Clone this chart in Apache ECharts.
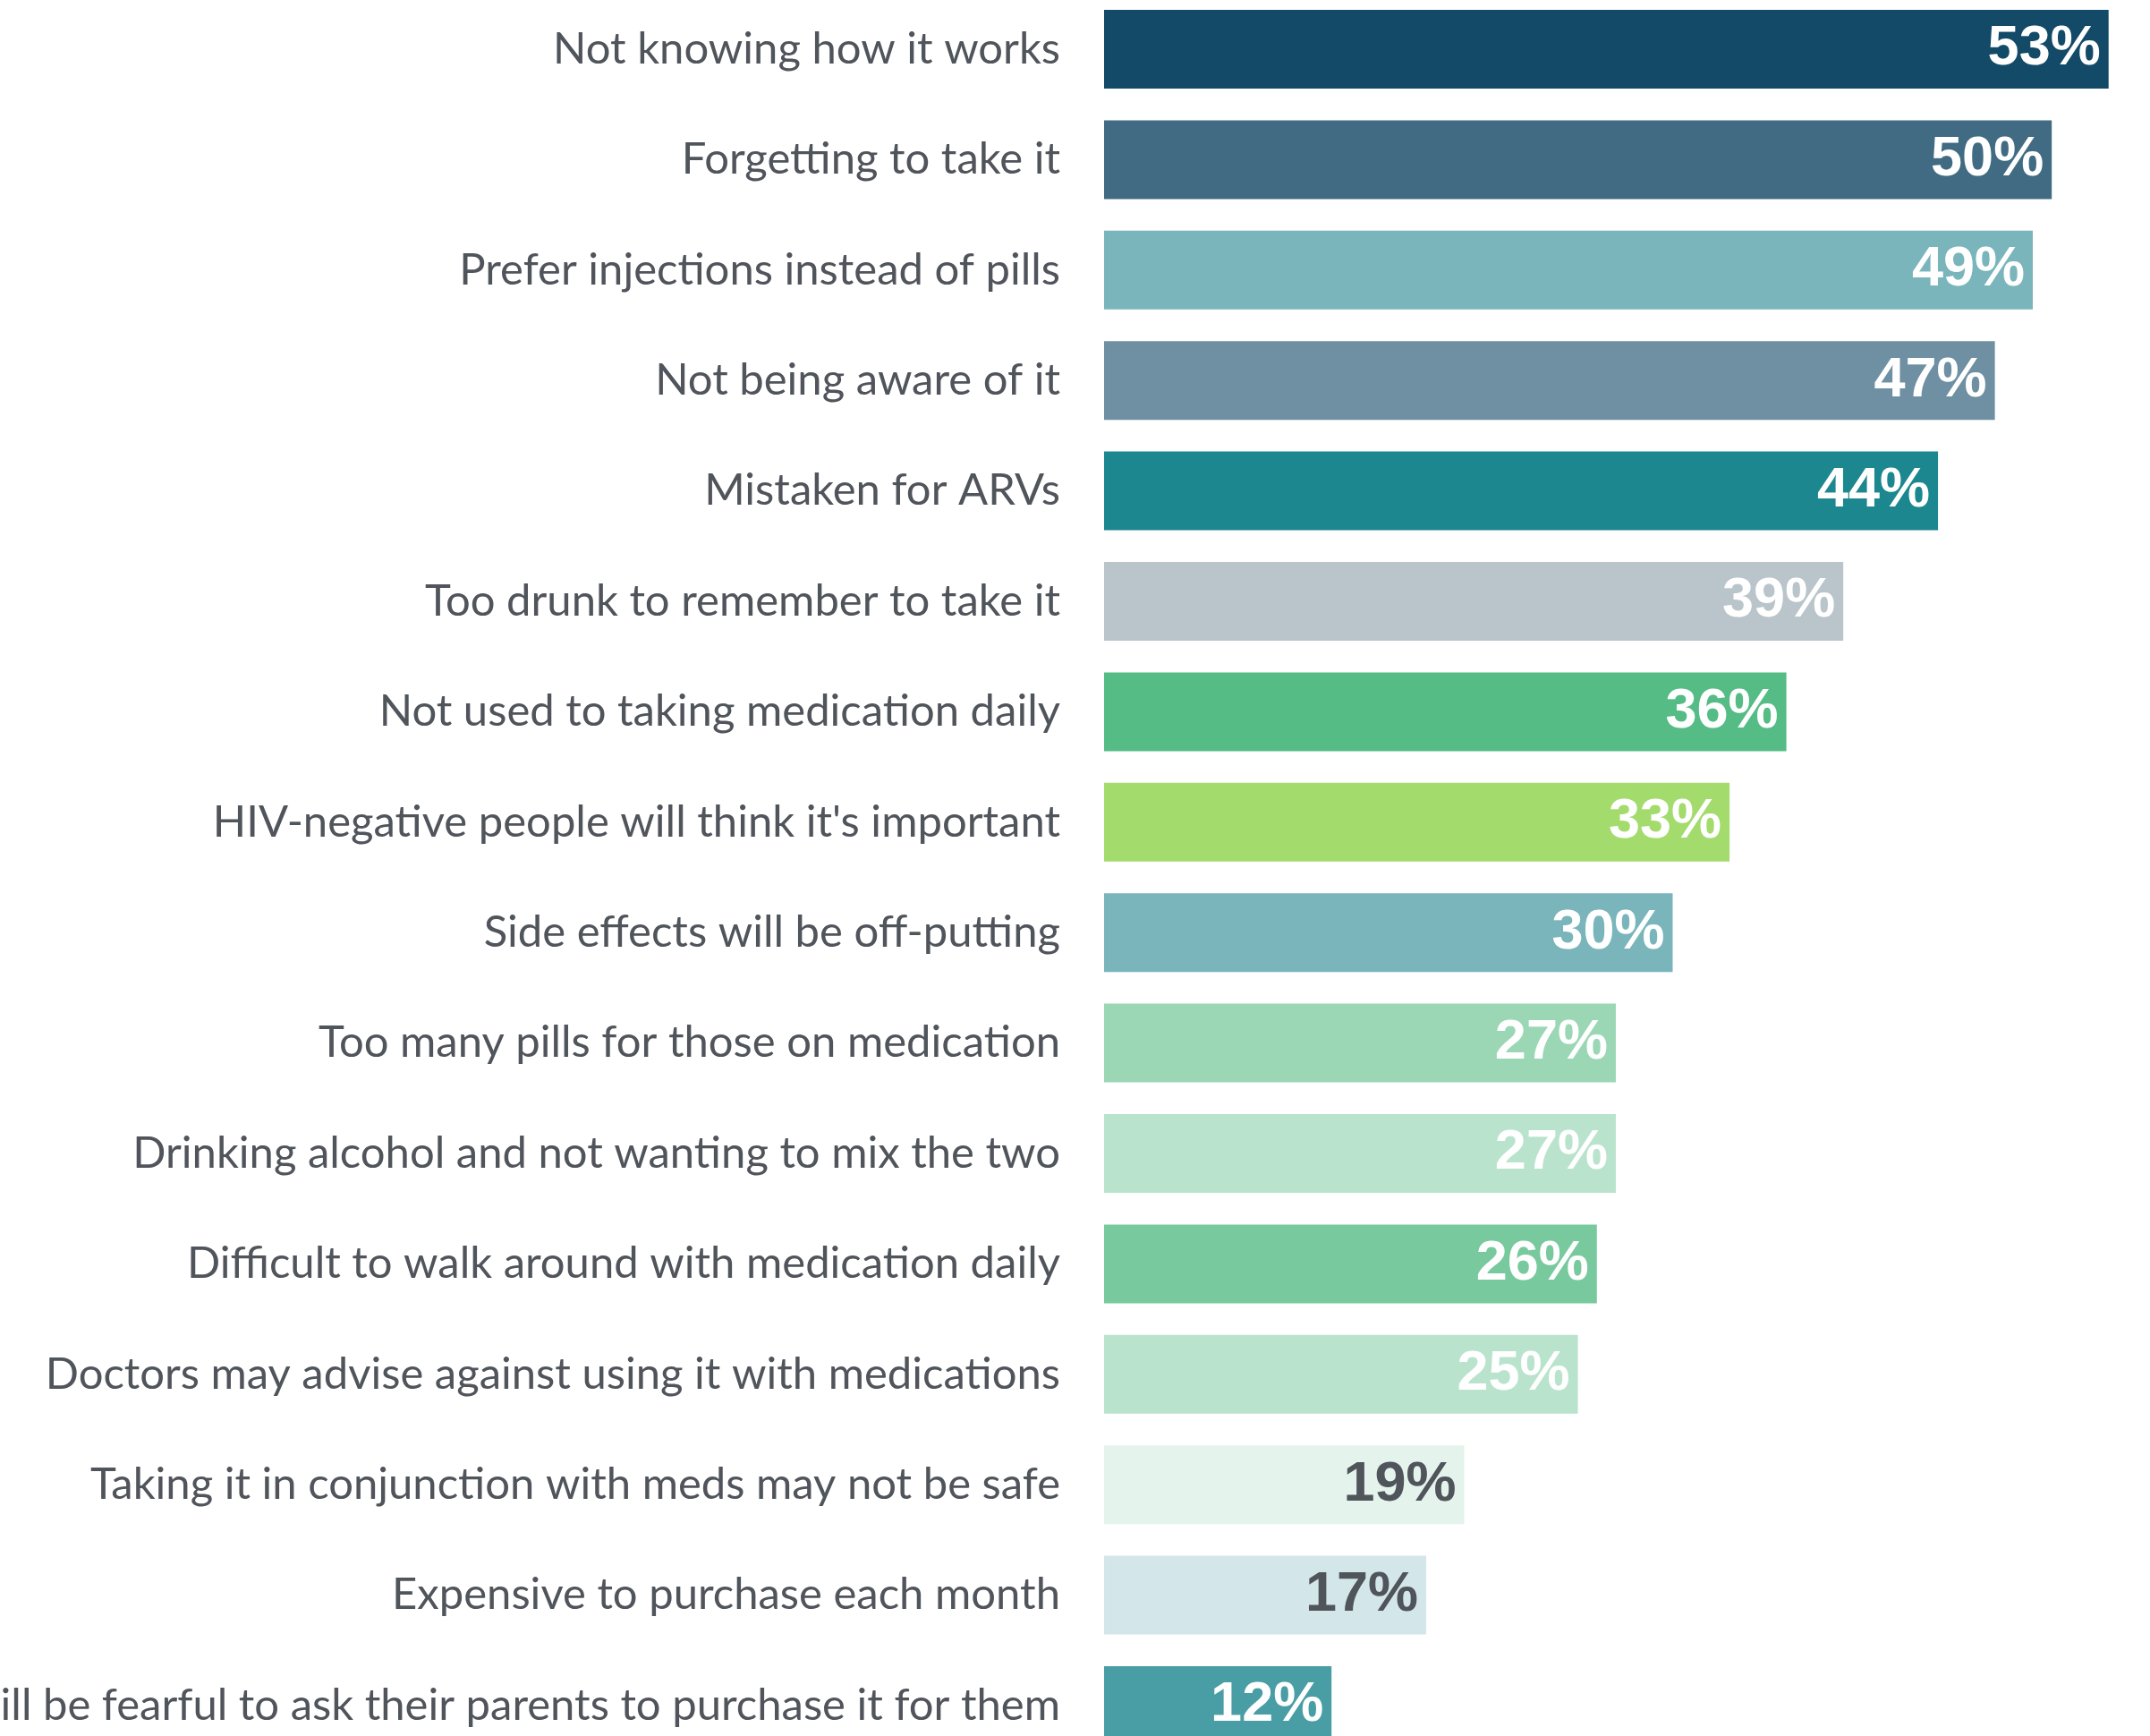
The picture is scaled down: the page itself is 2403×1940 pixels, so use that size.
<!DOCTYPE html>
<html>
<head>
<meta charset="utf-8">
<script src="https://cdn.jsdelivr.net/npm/echarts@6/dist/echarts.min.js"></script>
<style>
html,body{margin:0;padding:0;background:#fff;}
#chart{width:2403px;height:1940px;}
</style>
</head>
<body>
<div id="chart"></div>
<script>
const categories = [
  "Not knowing how it works",
  "Forgetting to take it",
  "Prefer injections instead of pills",
  "Not being aware of it",
  "Mistaken for ARVs",
  "Too drunk to remember to take it",
  "Not used to taking medication daily",
  "HIV-negative people will think it's important",
  "Side effects will be off-putting",
  "Too many pills for those on medication",
  "Drinking alcohol and not wanting to mix the two",
  "Difficult to walk around with medication daily",
  "Doctors may advise against using it with medications",
  "Taking it in conjunction with meds may not be safe",
  "Expensive to purchase each month",
  "Young people will be fearful to ask their parents to purchase it for them"
];
const values = [53, 50, 49, 47, 44, 39, 36, 33, 30, 27, 27, 26, 25, 19, 17, 12];
const barColors = [
  "#134a67", "#406b83", "#7ab5bc", "#6f8fa2", "#1c878f", "#bac5cb",
  "#55bc85", "#a3db6d", "#7ab5bc", "#9bd7b5", "#bae3cd", "#78c99d",
  "#bae3cd", "#e4f3ec", "#d3e7ea", "#489ea4"
];
const labelColors = [
  "#ffffff", "#ffffff", "#ffffff", "#ffffff", "#ffffff", "#ffffff",
  "#ffffff", "#ffffff", "#ffffff", "#ffffff", "#ffffff", "#ffffff",
  "#ffffff", "#50545b", "#50545b", "#ffffff"
];

const chart = echarts.init(document.getElementById('chart'), null, {renderer: 'canvas'});
chart.setOption({
  animation: false,
  backgroundColor: '#ffffff',
  grid: {left: 1234, top: -6.7, width: 1271, height: 1974.4, containLabel: false, outerBoundsMode: 'none'},
  xAxis: {
    type: 'value', min: 0, max: 60, show: false
  },
  yAxis: {
    type: 'category',
    data: categories,
    inverse: true,
    axisLine: {show: false},
    axisTick: {show: false},
    splitLine: {show: false},
    axisLabel: {
      margin: 49,
      fontFamily: 'Lato',
      fontSize: 49,
      color: '#50545b'
    }
  },
  series: [{
    type: 'bar',
    barWidth: 88,
    data: values.map((v, i) => ({
      value: v,
      itemStyle: {color: barColors[i]},
      label: {color: labelColors[i]}
    })),
    label: {
      show: true,
      position: 'insideRight',
      distance: 9,
      formatter: '{c}%',
      fontFamily: 'Liberation Sans',
      fontWeight: 'bold',
      fontSize: 63
    }
  }]
});
</script>
</body>
</html>
